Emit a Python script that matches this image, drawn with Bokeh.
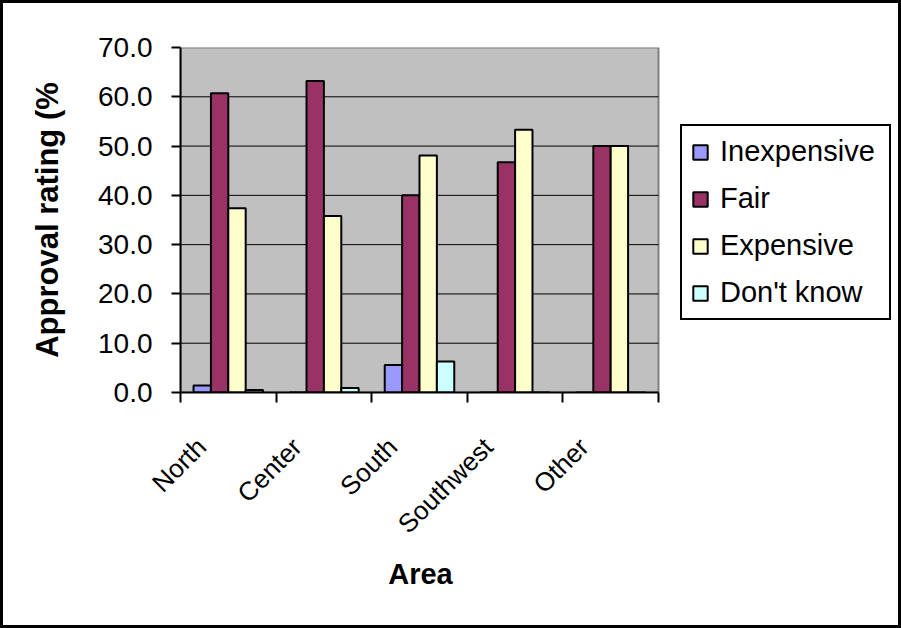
import math
from bokeh.plotting import figure
from bokeh.models import (ColumnDataSource, FixedTicker, Range1d, Legend, LegendItem,
                          LinearAxis, PrintfTickFormatter, Title)
from bokeh.transform import dodge
from bokeh.embed import file_html
from bokeh.resources import INLINE

# ---- data ----
areas = ["North", "Center", "South", "Southwest", "Other"]
series = ["Inexpensive", "Fair", "Expensive", "Don't know"]
inexpensive = [1.4, 0.0, 5.6, 0.0, 0.0]
fair = [60.7, 63.2, 40.0, 46.7, 50.0]
expensive = [37.4, 35.8, 48.1, 53.3, 50.0]
dont_know = [0.5, 0.9, 6.3, 0.0, 0.0]
y_ticks = [0, 10, 20, 30, 40, 50, 60, 70]
colors = ["#9999FF", "#993366", "#FFFFCC", "#CCFFFF"]

FONT = "Liberation Sans"
n = len(areas)
cols = ["inexpensive", "fair", "expensive", "dont_know"]
src = ColumnDataSource(dict(
    xc=[i + 0.5 for i in range(n)],
    inexpensive=inexpensive, fair=fair, expensive=expensive, dont_know=dont_know))

# layout (canvas pixels): plot area 478 px wide, frame extended right to hold the legend
W, H = 901, 628
left_b, top_b, bottom_b, right_b = 177, 44, 239, 9
frame_w = W - left_b - right_b
plot_w = 478
x_end = n * frame_w / plot_w

p = figure(width=W, height=H, x_range=Range1d(0, x_end), y_range=Range1d(y_ticks[0], y_ticks[-1]),
           output_backend="svg", toolbar_location=None, x_axis_location=None,
           min_border_left=left_b, min_border_right=right_b, min_border_top=top_b,
           min_border_bottom=bottom_b)
p.styles = {"border": "3px solid black"}
p.background_fill_color = "white"
p.border_fill_color = "white"
p.outline_line_color = None

# grey plot area + gridlines
p.quad(left=0, right=n, bottom=y_ticks[0], top=y_ticks[-1], fill_color="#C0C0C0",
       line_color="#808080", line_width=2)
p.segment(x0=[0] * (len(y_ticks) - 2), x1=[n] * (len(y_ticks) - 2),
          y0=y_ticks[1:-1], y1=y_ticks[1:-1], line_color="black", line_width=1)

w = 1.0 / (len(series) + 1.5)
renderers = []
for k, c in enumerate(cols):
    r = p.vbar(x=dodge("xc", (k - (len(series) - 1) / 2) * w, range=p.x_range),
               top=c, width=w, source=src, fill_color=colors[k],
               line_color="black", line_width=2)
    renderers.append(r)

p.xgrid.visible = False
p.ygrid.visible = False

# y axis
ya = p.yaxis[0]
ya.ticker = FixedTicker(ticks=y_ticks)
ya.formatter = PrintfTickFormatter(format="%.1f")
ya.major_tick_out = 9
ya.major_tick_in = 0
ya.major_tick_line_width = 2
ya.axis_line_width = 2
ya.major_label_text_font = FONT
ya.major_label_text_font_size = "28px"
ya.major_label_text_color = "black"
ya.major_label_standoff = 19
ya.axis_label = "Approval rating (%"
ya.axis_label_text_font = FONT
ya.axis_label_text_font_size = "31px"
ya.axis_label_text_font_style = "bold"
ya.axis_label_text_color = "black"
ya.axis_label_standoff = 30

# x axis: labels sit a little left of each group's centre, ticks at group boundaries
shift = 0.28
s0 = 0.5 + shift
p.extra_x_ranges = {"lab": Range1d(start=s0, end=s0 + x_end)}
xa = LinearAxis(x_range_name="lab", bounds=(s0, s0 + n))
xa.ticker = FixedTicker(ticks=[i + 1 for i in range(n)],
                        minor_ticks=[s0 + j for j in range(n + 1)])
xa.major_label_overrides = {i + 1: a for i, a in enumerate(areas)}
xa.major_label_orientation = math.pi / 4
xa.major_label_text_font = FONT
xa.major_label_text_font_size = "26px"
xa.major_label_text_color = "black"
xa.major_label_standoff = 40
xa.major_tick_line_color = None
xa.major_tick_out = 0
xa.major_tick_in = 0
xa.minor_tick_out = 10
xa.minor_tick_in = 0
xa.minor_tick_line_width = 2
xa.minor_tick_line_color = "black"
xa.axis_line_width = 2
p.add_layout(xa, "below")

# x-axis title, centred under the plot area
title_size = 29
title_w = 2.223 * title_size
xt = Title(text="Area", align="left", offset=plot_w / 2 - title_w / 2 + 1,
           text_font=FONT, text_font_size=f"{title_size}px", text_font_style="bold",
           text_color="black", standoff=7)
p.add_layout(xt, "below")

legend = Legend(items=[LegendItem(label=s, renderers=[r]) for s, r in zip(series, renderers)],
                location=(500, 72))
legend.border_line_color = "black"
legend.border_line_alpha = 1
legend.border_line_width = 2
legend.background_fill_color = "white"
legend.background_fill_alpha = 1
legend.label_text_font = FONT
legend.label_text_font_size = "29px"
legend.label_text_color = "black"
legend.glyph_width = 18
legend.glyph_height = 18
legend.label_standoff = 11
legend.padding = 9
legend.spacing = 14
legend.label_width = 160
legend.margin = 0
p.add_layout(legend)

open("out.html", "w").write(file_html(p, INLINE))
